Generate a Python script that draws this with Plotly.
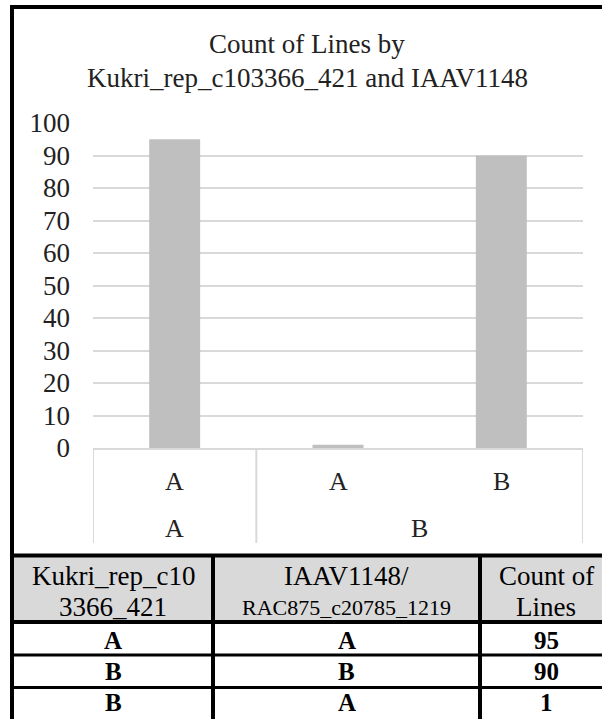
import plotly.graph_objects as go

# ---------------- data ----------------
kukri = ["A", "B", "B"]          # outer category level (Kukri_rep_c103366_421)
iaav = ["A", "A", "B"]           # inner category level (IAAV1148)
counts = [95, 1, 90]             # Count of Lines
y_ticks = [0, 10, 20, 30, 40, 50, 60, 70, 80, 90, 100]

title_lines = ["Count of Lines by", "Kukri_rep_c103366_421 and IAAV1148"]

table_header_line1 = ["Kukri_rep_c10", "IAAV1148/", "Count of"]
table_header_line2 = ["3366_421", "RAC875_c20785_1219", "Lines"]
table_col_kukri = ["A", "B", "B"]
table_col_iaav = ["A", "B", "A"]
table_col_count = [95, 90, 1]

# ---------------- layout geometry (pixels) ----------------
FW, FH = 602, 719
ML, MR, MT, MB = 93, 19, 123, 271
PW = FW - ML - MR
PH = FH - MT - MB

def px(xp):
    return (xp - ML) / PW

def py(yp):
    return (FH - MB - yp) / PH

FONT = "Liberation Serif"
TXT = "#222222"
GRID = "#d9d9d9"

xidx = list(range(len(counts)))

fig = go.Figure()
fig.add_trace(go.Bar(
    x=xidx, y=counts, marker=dict(color="#bfbfbf", line=dict(width=0)),
    width=0.312, hoverinfo="skip",
))

shapes = []
annotations = []

# title
for line, yc in zip(title_lines, [44, 78]):
    annotations.append(dict(
        x=px(307), y=py(yc), xref="paper", yref="paper", text=line,
        showarrow=False, xanchor="center", yanchor="middle",
        font=dict(family=FONT, size=27, color=TXT)))

# category axis: inner labels
for i, lab in zip(xidx, iaav):
    annotations.append(dict(
        x=i, y=py(481), xref="x", yref="paper", text=lab, showarrow=False,
        xanchor="center", yanchor="middle",
        font=dict(family=FONT, size=26, color=TXT)))

# outer groups
groups = []
for i, k in enumerate(kukri):
    if groups and groups[-1][0] == k:
        groups[-1][1].append(i)
    else:
        groups.append((k, [i]))
bounds = [-0.5]
for k, idxs in groups:
    annotations.append(dict(
        x=sum(idxs) / len(idxs), y=py(528), xref="x", yref="paper", text=k,
        showarrow=False, xanchor="center", yanchor="middle",
        font=dict(family=FONT, size=26, color=TXT)))
    bounds.append(idxs[-1] + 0.5)
for b in bounds:
    shapes.append(dict(type="line", xref="x", yref="paper", x0=b, x1=b,
                       y0=0, y1=py(543), line=dict(color=GRID, width=2)))

# outer chart border (left and top)
shapes.append(dict(type="line", xref="paper", yref="paper", x0=px(12), x1=px(12),
                   y0=py(5), y1=py(FH + 5), line=dict(color="black", width=4)))
shapes.append(dict(type="line", xref="paper", yref="paper", x0=px(10), x1=px(FW + 5),
                   y0=py(7), y1=py(7), line=dict(color="black", width=4)))

# table
shapes.append(dict(type="rect", xref="paper", yref="paper", x0=px(14), x1=px(FW + 5),
                   y0=py(557), y1=py(621), fillcolor="#d9d9d9", line=dict(width=0),
                   layer="below"))
for yl, w in [(555.5, 4), (622, 4), (655, 3), (687.5, 3)]:
    shapes.append(dict(type="line", xref="paper", yref="paper", x0=px(10), x1=px(FW + 5),
                       y0=py(yl), y1=py(yl), line=dict(color="black", width=w)))
for xl in [213, 480]:
    shapes.append(dict(type="line", xref="paper", yref="paper", x0=px(xl), x1=px(xl),
                       y0=py(555), y1=py(FH + 5), line=dict(color="black", width=4)))

col_centers = [113, 346.5, 546]
for xc, t1, t2 in zip(col_centers, table_header_line1, table_header_line2):
    annotations.append(dict(x=px(xc), y=py(576), xref="paper", yref="paper", text=t1,
                            showarrow=False, xanchor="center", yanchor="middle",
                            font=dict(family=FONT, size=27, color="black")))
    annotations.append(dict(x=px(xc), y=py(607), xref="paper", yref="paper", text=t2,
                            showarrow=False, xanchor="center", yanchor="middle",
                            font=dict(family=FONT, size=27 if len(t2) < 12 else 22,
                                      color="black")))

row_centers = [640, 671, 702]
for r, yc in enumerate(row_centers):
    for xc, val in zip(col_centers, [table_col_kukri[r], table_col_iaav[r], table_col_count[r]]):
        annotations.append(dict(x=px(xc), y=py(yc), xref="paper", yref="paper",
                                text=f"<b>{val}</b>", showarrow=False,
                                xanchor="center", yanchor="middle",
                                font=dict(family=FONT, size=25, color="black")))

fig.update_layout(
    width=FW, height=FH,
    margin=dict(l=ML, r=MR, t=MT, b=MB, autoexpand=False),
    paper_bgcolor="white", plot_bgcolor="white",
    showlegend=False,
    bargap=0.688,
    xaxis=dict(range=[-0.5, 2.5], showticklabels=False, showgrid=False, zeroline=False,
               showline=True, linecolor=GRID, linewidth=2, ticks="", fixedrange=True),
    yaxis=dict(range=[0, 100], tickvals=y_ticks, showgrid=True, gridcolor=GRID, gridwidth=2,
               zeroline=False, showline=False, ticks="", ticklabelstandoff=22,
               tickfont=dict(family=FONT, size=27, color=TXT), fixedrange=True),
    shapes=shapes,
    annotations=annotations,
)

fig.write_html("out.html")
